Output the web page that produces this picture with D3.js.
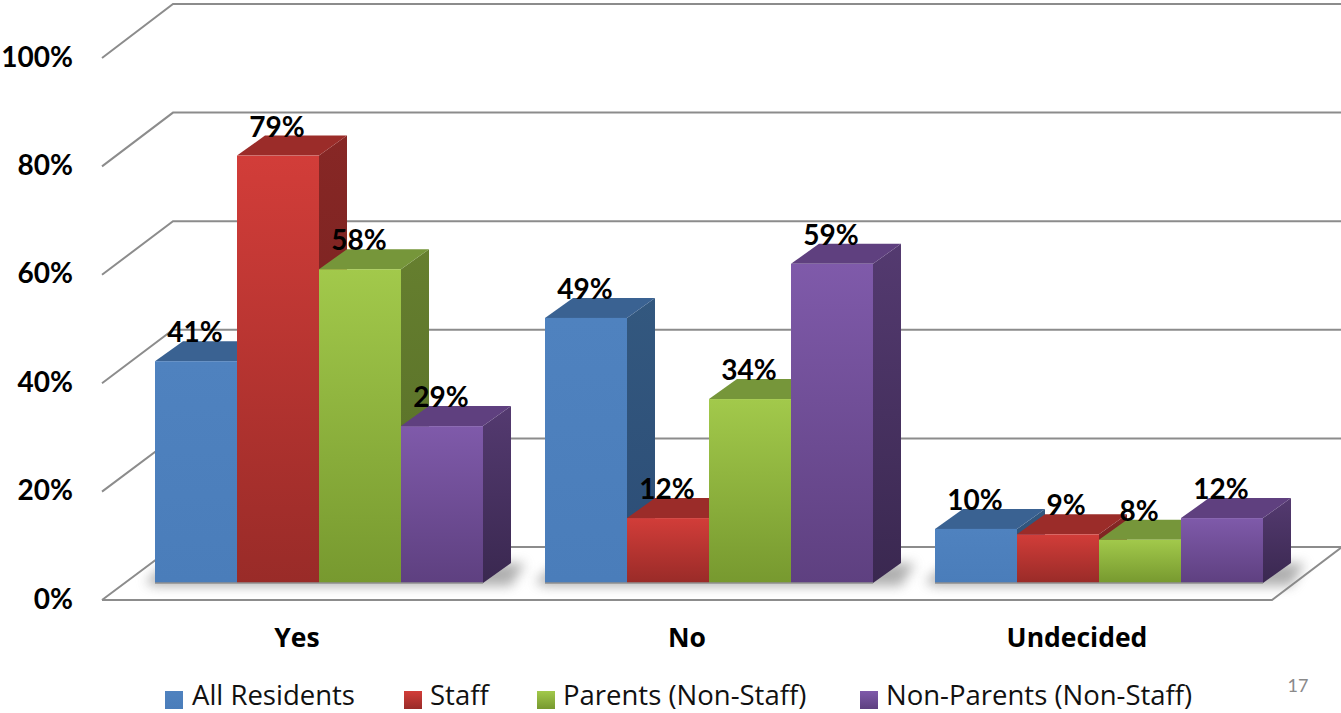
<!DOCTYPE html>
<html><head><meta charset="utf-8">
<script src="https://cdn.jsdelivr.net/npm/d3@7"></script>
<style>
html,body{margin:0;padding:0;background:#fff;overflow:hidden}
svg{display:block}
.domain{display:none}
</style></head><body>
<svg id="c" width="1341" height="713"></svg>
<script>
const categories = ["Yes", "No", "Undecided"];
const seriesNames = ["All Residents", "Staff", "Parents (Non-Staff)", "Non-Parents (Non-Staff)"];
const allResidents = [41, 49, 10];
const staff = [79, 12, 9];
const parents = [58, 34, 8];
const nonParents = [29, 59, 12];
const tickValues = [0, 20, 40, 60, 80, 100];
const pageNumber = "17";

const seriesValues = [allResidents, staff, parents, nonParents];
const palettes = [
  {id:"a", hi:"#4f82bf", lo:"#4a7dba", top:"#3a6292", sideHi:"#33587f", sideLo:"#2c4d76"},
  {id:"b", hi:"#d23d39", lo:"#992b28", top:"#9b2c29", sideHi:"#872725", sideLo:"#6f201e"},
  {id:"c", hi:"#a2c94b", lo:"#77992f", top:"#76963a", sideHi:"#667f2f", sideLo:"#556c26"},
  {id:"d", hi:"#7f5aaa", lo:"#5e4080", top:"#5f407f", sideHi:"#543a70", sideLo:"#3a2850"}
];

const svg = d3.select("#c");
const depthX = 28, depthY = 20;
const yFront = d3.scaleLinear().domain([0,100]).range([600,58]);
const yBack  = d3.scaleLinear().domain([0,100]).range([547,4]);
const yBar   = d3.scaleLinear().domain([0,100]).range([583,42]);
const xAxisBand = d3.scaleBand().domain(categories).range([102,1272]);
const xGroup = d3.scaleBand().domain(categories).range([124,1294]);
const xBar = d3.scaleBand().domain(seriesNames).range([31,359]);

const defs = svg.append("defs");
function grad(id,c1,c2){
  const g = defs.append("linearGradient").attr("id",id).attr("x1",0).attr("y1",0).attr("x2",0).attr("y2",1);
  g.append("stop").attr("offset",0).attr("stop-color",c1);
  g.append("stop").attr("offset",1).attr("stop-color",c2);
}
palettes.forEach(p=>{grad("f"+p.id,p.hi,p.lo);grad("s"+p.id,p.sideHi,p.sideLo);});
defs.append("filter").attr("id","blur").attr("filterUnits","userSpaceOnUse")
  .attr("x",0).attr("y",500).attr("width",1341).attr("height",130)
  .append("feGaussianBlur").attr("stdDeviation",6);

const gridColor = "#8c8c8c";
const wall = svg.append("g").attr("fill","none").attr("stroke",gridColor).attr("stroke-width",2);
const xFL = xAxisBand.range()[0], xFR = xAxisBand.range()[1];
const xBL = xFL+71, xBR = 1341;
tickValues.forEach(t=>{
  wall.append("path").attr("d",d3.line()([[xFL,yFront(t)],[xBL,yBack(t)],[xBR+2,yBack(t)]]));
});
wall.append("path").attr("d",d3.line()([[xFL,yFront(0)],[xFR,yFront(0)],[xBR+1,yBack(0)]]));

// shadows on the floor
const shadows = svg.append("g").attr("opacity",0.62);
categories.forEach(c=>{
  const x0 = xGroup(c)+xBar.range()[0], x1 = xGroup(c)+xBar.range()[1];
  shadows.append("path").attr("fill","#808080").attr("filter","url(#blur)")
    .attr("d",d3.line()([[x0-10,yBar(0)-1],[x0+10,yBar(0)-18],[x1+depthX+14,yBar(0)-20],[x1+depthX,yBar(0)+3],[x0,yBar(0)+3]])+"Z");
});

// bars
const barsG = svg.append("g");
categories.forEach((c,ci)=>{
  seriesNames.forEach((s,si)=>{
    const v = seriesValues[si][ci], p = palettes[si];
    const x = xGroup(c)+xBar(s), w = xBar.bandwidth(), yT = yBar(v), yB = yBar(0);
    const g = barsG.append("g");
    g.append("path").attr("fill",`url(#s${p.id})`)
      .attr("d",d3.line()([[x+w,yT],[x+w+depthX,yT-depthY],[x+w+depthX,yB-depthY],[x+w,yB]])+"Z");
    g.append("path").attr("fill",p.top)
      .attr("d",d3.line()([[x,yT],[x+depthX,yT-depthY],[x+w+depthX,yT-depthY],[x+w,yT]])+"Z");
    g.append("rect").attr("x",x).attr("y",yT).attr("width",w).attr("height",yB-yT).attr("fill",`url(#f${p.id})`);
    g.append("path").attr("stroke","#8f8f8f").attr("stroke-width",1.5).attr("fill","none")
      .attr("d",d3.line()([[x,yB],[x+w,yB]]));
  });
});

// value labels
const labels = svg.append("g").attr("font-family","Lato").attr("font-weight",700).attr("font-size",28).attr("fill","#000").attr("text-anchor","middle");
categories.forEach((c,ci)=>{
  seriesNames.forEach((s,si)=>{
    const v = seriesValues[si][ci];
    const shift = (c==="Undecided" && s==="Staff") ? 8 : -1;
    labels.append("text")
      .attr("x",xGroup(c)+xBar(s)+xBar.bandwidth()/2+shift)
      .attr("y",yBar(v)-depthY+1)
      .text(v+"%");
  });
});

// axes
const axY = svg.append("g").attr("transform","translate(73,0)")
  .call(d3.axisLeft(yFront).tickValues(tickValues).tickFormat(d=>d+"%").tickSize(0).tickPadding(0));
axY.selectAll("text").attr("font-size",28).attr("font-weight",700).attr("fill","#000").attr("font-family","Lato").attr("dy",0).attr("y",8);
const axX = svg.append("g").attr("transform","translate(0,628)")
  .call(d3.axisBottom(xAxisBand).tickSize(0).tickPadding(0));
axX.selectAll("text").attr("font-size",26.5).attr("font-weight",700).attr("fill","#000").attr("font-family","Open Sans").attr("dy",0).attr("y",19);

// legend
const legendSwatchX = [165,404,537,860], legendTextX = [192,430,563,886];
const lg = svg.append("g").attr("font-family","Open Sans");
seriesNames.forEach((s,i)=>{
  lg.append("rect").attr("x",legendSwatchX[i]).attr("y",691).attr("width",18).attr("height",18).attr("fill",`url(#f${palettes[i].id})`);
  lg.append("text").attr("x",legendTextX[i]).attr("y",704.5).attr("font-size",27.5).attr("fill","#111").text(s);
});
svg.append("text").attr("x",1298).attr("y",692).attr("text-anchor","middle").attr("font-family","Lato").attr("font-size",18).attr("fill","#8a8a8a").text(pageNumber);
</script>
</body></html>
